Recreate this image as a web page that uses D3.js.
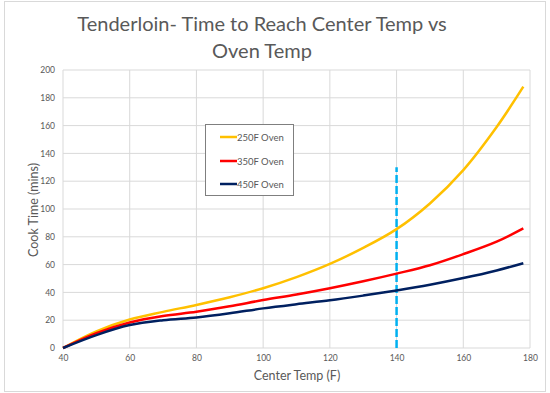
<!DOCTYPE html>
<html>
<head>
<meta charset="utf-8">
<script src="https://cdn.jsdelivr.net/npm/d3@7"></script>
<style>
  body { margin: 0; background: #fff; }
  text { font-family: Lato, "Open Sans", sans-serif; fill: #595959; }
</style>
</head>
<body>
<div id="chart"></div>
<script>
// data
const centerTemp = [40, 50, 60, 70, 80, 90, 100, 110, 120, 130, 140, 150, 160, 170, 178];
const oven250 = [0, 12, 20.5, 26, 31, 36.5, 43, 51, 60.5, 72, 85.5, 104, 128, 159, 188];
const oven350 = [0, 10.7, 18.4, 23, 26, 30, 34.5, 38.5, 43, 48, 53.5, 59.5, 67.5, 76.5, 86];
const oven450 = [0, 9.3, 16.5, 20, 22, 25, 28.5, 31.5, 34.3, 37.7, 41.4, 45.5, 50.3, 55.8, 61];
const seriesNames = ["250F Oven", "350F Oven", "450F Oven"];
const xTicks = [40, 60, 80, 100, 120, 140, 160, 180];
const yTicks = [0, 20, 40, 60, 80, 100, 120, 140, 160, 180, 200];
const markerTemp = 140;
const markerTop = 130;

const w = 550, h = 393;
const margin = {top: 70, right: 20, bottom: 45, left: 63};
const innerWidth = w - margin.left - margin.right;   // 467
const innerHeight = h - margin.top - margin.bottom;  // 278

const colors = ["#FFC000", "#FF0000", "#002060"];
const series = [oven250, oven350, oven450];

const xScale = d3.scaleLinear().domain([40, 180]).range([0, innerWidth]);
const yScale = d3.scaleLinear().domain([0, 200]).range([innerHeight, 0]);

const svg = d3.select("#chart").append("svg")
    .attr("width", w)
    .attr("height", h);

// chart border
svg.append("rect")
    .attr("x", 4.5).attr("y", 1.5)
    .attr("width", 541).attr("height", 390)
    .attr("fill", "#fff")
    .attr("stroke", "#D9D9D9");

// title
const title = svg.append("text")
    .attr("text-anchor", "middle")
    .style("font-size", "20px");
title.append("tspan").attr("x", 262).attr("y", 31).text("Tenderloin- Time to Reach Center Temp vs");
title.append("tspan").attr("x", 262).attr("y", 58).text("Oven Temp");

const plot = svg.append("g")
    .attr("transform", `translate(${margin.left}, ${margin.top})`);

// gridlines
plot.append("g")
    .selectAll("line.h")
    .data(yTicks)
  .enter().append("line")
    .attr("x1", 0).attr("x2", innerWidth)
    .attr("y1", d => yScale(d)).attr("y2", d => yScale(d))
    .attr("stroke", "#D9D9D9");

plot.append("g")
    .selectAll("line.v")
    .data(xTicks)
  .enter().append("line")
    .attr("y1", 0).attr("y2", innerHeight)
    .attr("x1", d => xScale(d)).attr("x2", d => xScale(d))
    .attr("stroke", "#D9D9D9");

// axes (labels only, grid draws the lines)
const xAxis = d3.axisBottom(xScale).tickValues(xTicks).tickSize(0).tickPadding(7);
const yAxis = d3.axisLeft(yScale).tickValues(yTicks).tickSize(0).tickPadding(8);

const gx = plot.append("g")
    .attr("transform", `translate(0, ${innerHeight})`)
    .call(xAxis);
const gy = plot.append("g").call(yAxis);
[gx, gy].forEach(g => {
  g.select(".domain").remove();
  g.selectAll("text").style("font-size", "8.5px").style("font-family", "Lato, sans-serif").attr("fill", "#595959");
});

// dashed marker at 140
plot.append("line")
    .attr("x1", xScale(markerTemp)).attr("x2", xScale(markerTemp))
    .attr("y1", yScale(0)).attr("y2", yScale(markerTop))
    .attr("stroke", "#00B0F0")
    .attr("stroke-width", 2.5)
    .attr("stroke-dasharray", "8,3");

// lines
const line = d3.line()
    .x((d, i) => xScale(centerTemp[i]))
    .y(d => yScale(d))
    .curve(d3.curveCatmullRom.alpha(0.5));

plot.selectAll("path.series")
    .data(series)
  .enter().append("path")
    .attr("class", "series")
    .attr("d", line)
    .attr("fill", "none")
    .attr("stroke", (d, i) => colors[i])
    .attr("stroke-width", 2.5)
    .attr("stroke-linejoin", "round");

// axis titles
svg.append("text")
    .attr("text-anchor", "middle")
    .attr("x", 297).attr("y", 380)
    .style("font-size", "12.5px")
    .text("Center Temp (F)");

svg.append("text")
    .attr("text-anchor", "middle")
    .attr("transform", "translate(38, 210) rotate(-90)")
    .style("font-size", "12.5px")
    .text("Cook Time (mins)");

// legend
const legend = svg.append("g");
legend.append("rect")
    .attr("x", 205.5).attr("y", 124.5)
    .attr("width", 88).attr("height", 71)
    .attr("fill", "#fff")
    .attr("stroke", "#7F7F7F");

const legendY = [137, 161, 184];
seriesNames.forEach((name, i) => {
  legend.append("line")
      .attr("x1", 220).attr("x2", 237)
      .attr("y1", legendY[i]).attr("y2", legendY[i])
      .attr("stroke", colors[i])
      .attr("stroke-width", 2.5);
  legend.append("text")
      .attr("x", 237).attr("y", legendY[i] + 3.5)
      .style("font-size", "9.5px")
      .text(name);
});
</script>
</body>
</html>
